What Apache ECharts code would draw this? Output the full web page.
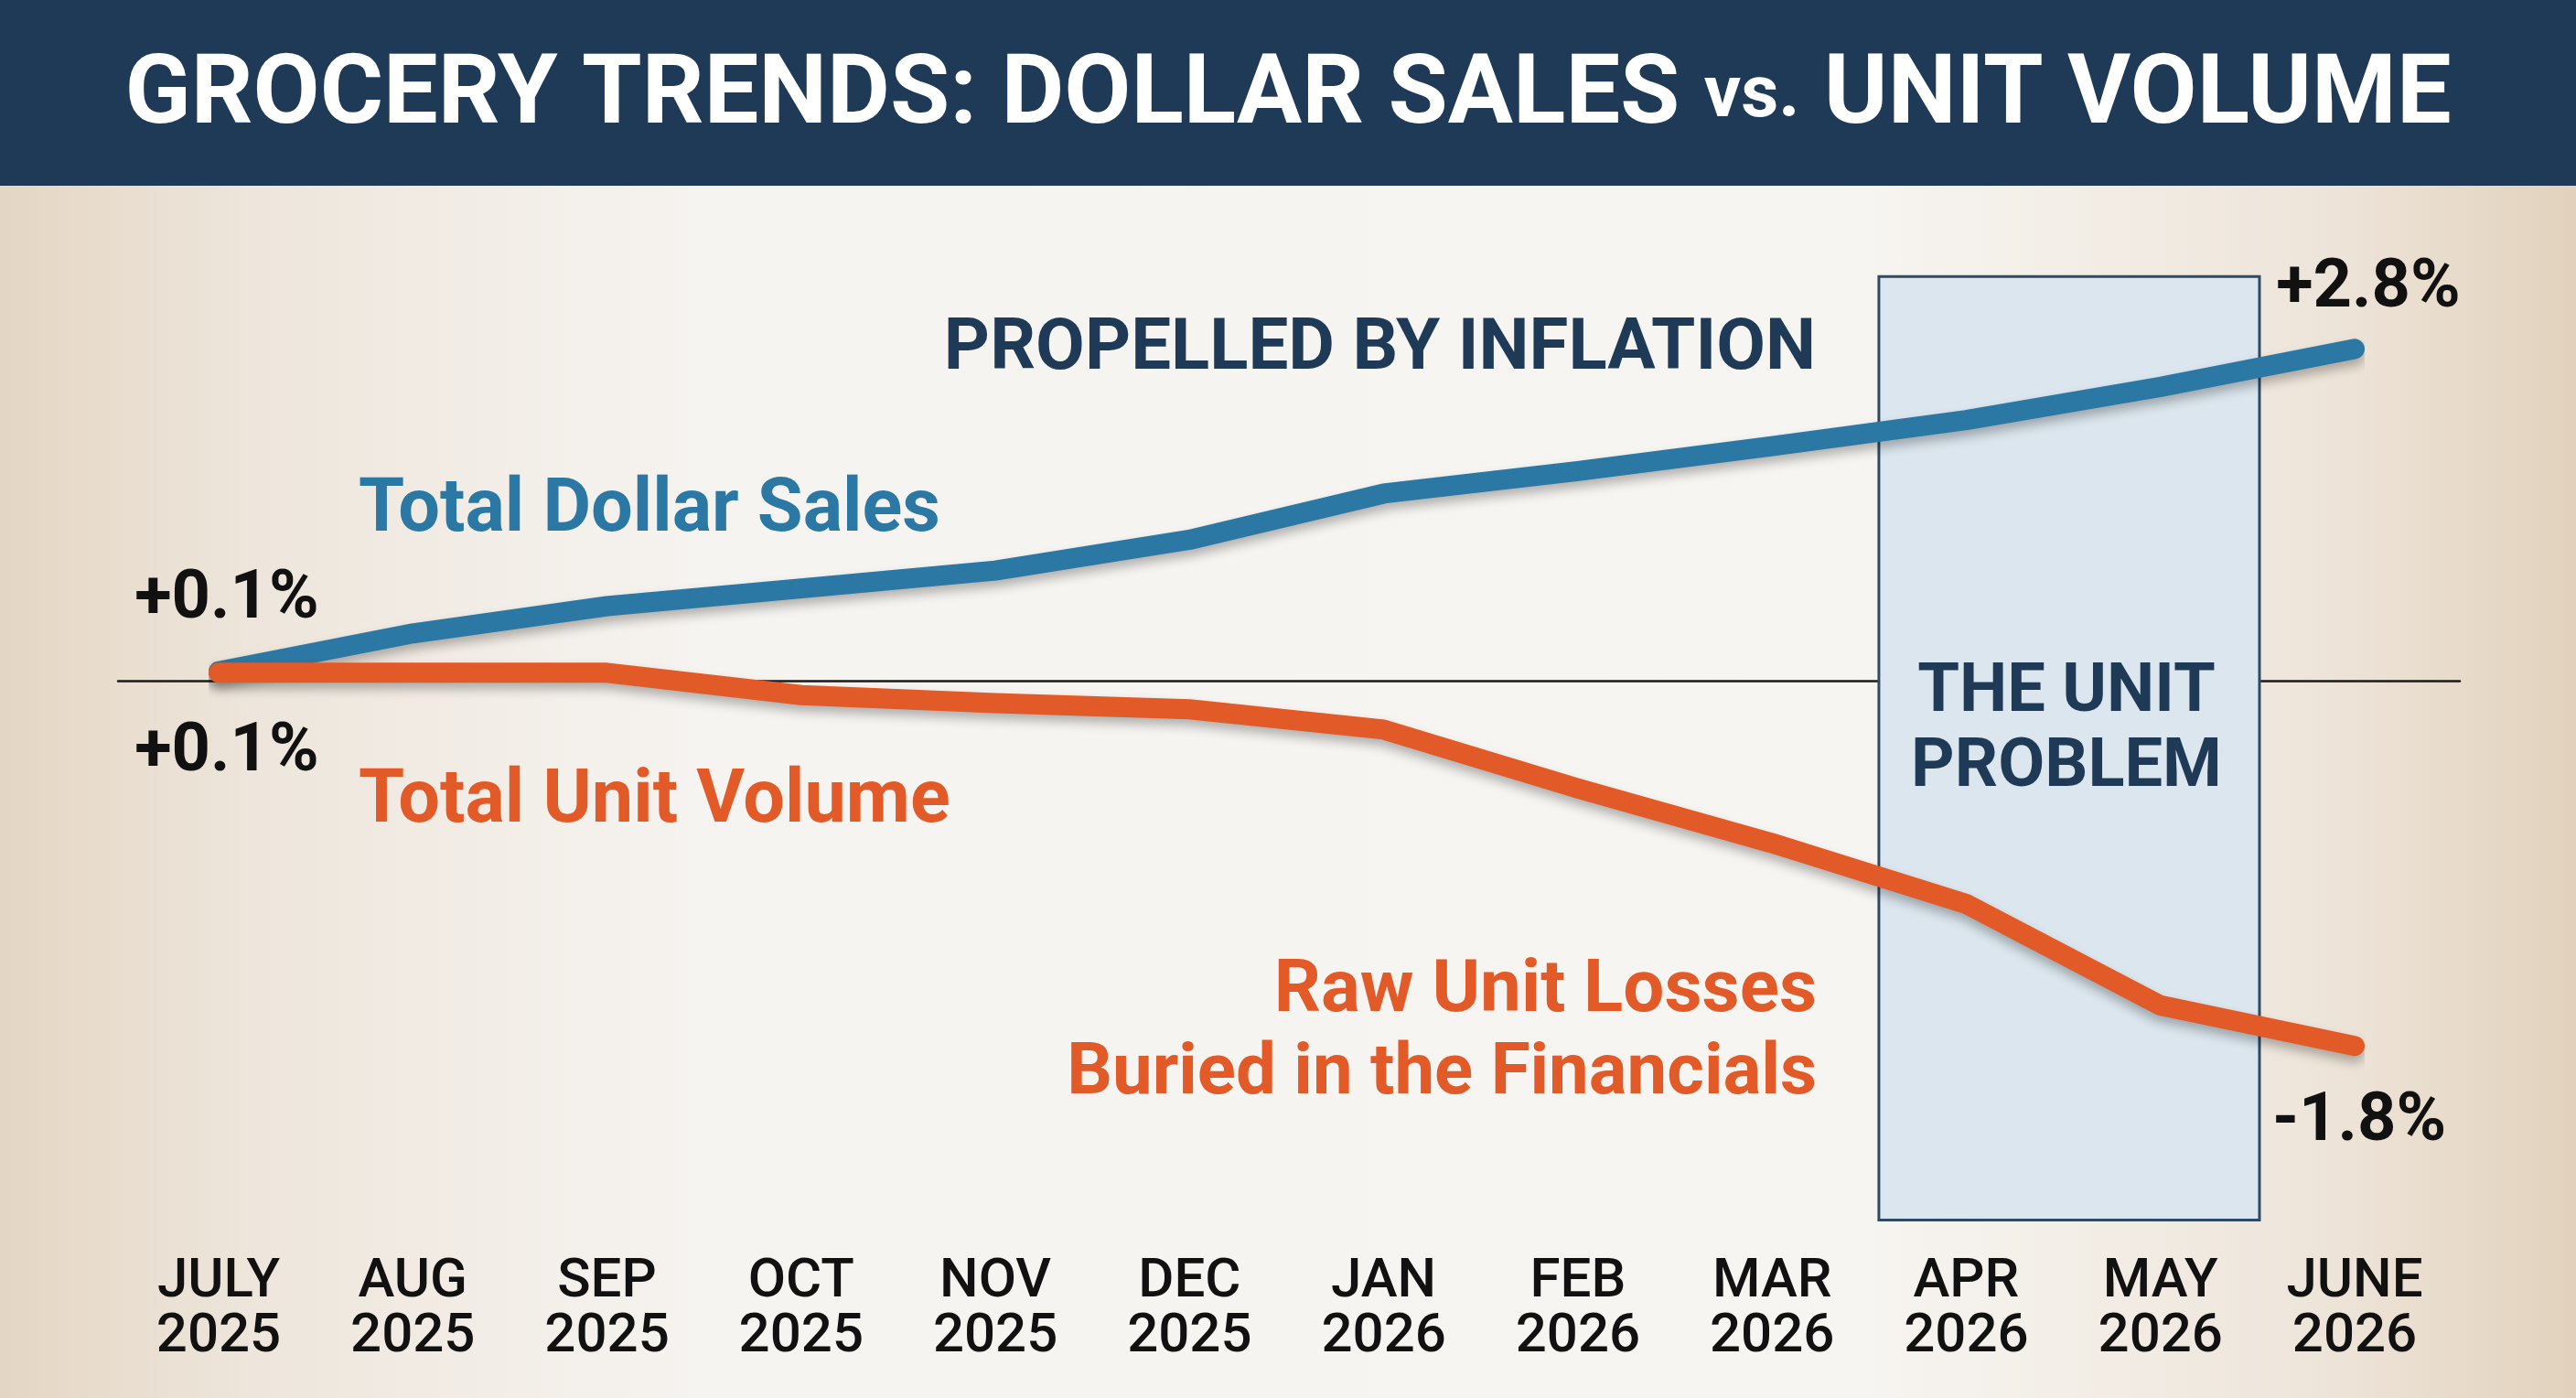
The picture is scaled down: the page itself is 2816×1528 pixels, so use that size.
<!DOCTYPE html>
<html>
<head>
<meta charset="utf-8">
<title>Grocery Trends: Dollar Sales vs. Unit Volume</title>
<script src="https://cdn.jsdelivr.net/npm/echarts@6/dist/echarts.min.js"></script>
<style>
    html, body { margin: 0; padding: 0; overflow: hidden; background: #f5f2ee; }
    #chart { width: 2816px; height: 1528px; }
</style>
</head>
<body>
<div id="chart"></div>
<script>
// Данные
const MONTHS = ['JULY', 'AUG', 'SEP', 'OCT', 'NOV', 'DEC', 'JAN', 'FEB', 'MAR', 'APR', 'MAY', 'JUNE'];
const YEARS = ['2025', '2025', '2025', '2025', '2025', '2025', '2026', '2026', '2026', '2026', '2026', '2026'];
const DOLLAR_SALES = [0.08, 0.40, 0.63, 0.78, 0.93, 1.19, 1.58, 1.77, 1.98, 2.20, 2.48, 2.80];
const UNIT_VOLUME = [0.04, 0.04, 0.04, -0.07, -0.11, -0.14, -0.24, -0.53, -0.80, -1.10, -1.60, -1.80];
const START_LABELS = ['+0.1%', '+0.1%'];
const END_LABELS = ['+2.8%', '-1.8%'];

// Цвета и шрифты
const COLORS = {
    navy: '#1e3a56',
    blue: '#2a78a3',
    orange: '#e25a28',
    ink: '#111111',
    box: '#dbe6ee',
    boxBorder: '#2f4b64'
};
const FONT = 'Roboto, "Liberation Sans", sans-serif';

// Шкалы: у двух линий разный масштаб, ноль общий
const DOLLAR_RANGE = [-4.8, 4.2];
const UNIT_RANGE = [-2.805, 2.455];

const chart = echarts.init(document.getElementById('chart'));

const lineShadow = {
    shadowColor: 'rgba(0, 0, 0, 0.28)',
    shadowBlur: 12,
    shadowOffsetY: 7
};

function annotation(text, x, y, color, align, size) {
    return {
        type: 'text',
        x: x,
        y: y,
        z: 20,
        style: {
            text: text,
            fill: color,
            font: 'bold ' + (size || 80) + 'px ' + FONT,
            align: align || 'left',
            verticalAlign: 'middle'
        }
    };
}

const option = {
    animation: false,
    graphic: [
        // Фон
        {
            type: 'rect',
            z: -10,
            shape: { x: 0, y: 0, width: 2816, height: 1528 },
            style: {
                fill: new echarts.graphic.LinearGradient(0, 0, 1, 0, [
                    { offset: 0, color: '#e4d6c4' },
                    { offset: 0.1, color: '#eee6dc' },
                    { offset: 0.28, color: '#f6f4f1' },
                    { offset: 0.72, color: '#f7f5f2' },
                    { offset: 0.9, color: '#eee5da' },
                    { offset: 1, color: '#e2d2bd' }
                ])
            }
        },
        // Шапка
        {
            type: 'rect',
            z: 10,
            shape: { x: 0, y: 0, width: 2816, height: 203 },
            style: { fill: COLORS.navy }
        },
        {
            type: 'text',
            x: 1408,
            y: 107,
            z: 11,
            style: {
                text: '{a|GROCERY TRENDS: DOLLAR SALES }{b|vs.}{a| UNIT VOLUME}',
                align: 'center',
                verticalAlign: 'middle',
                rich: {
                    a: { fill: '#ffffff', font: 'bold 106px ' + FONT },
                    b: { fill: '#ffffff', font: 'bold 80px ' + FONT }
                }
            }
        },
        annotation('PROPELLED BY INFLATION', 1985, 383, COLORS.navy, 'right', 78),
        annotation('Total Dollar Sales', 392, 560, COLORS.blue, 'left', 81),
        annotation('Total Unit Volume', 392, 878, COLORS.orange, 'left', 81),
        annotation('Raw Unit Losses', 1986, 1085, COLORS.orange, 'right', 80),
        annotation('Buried in the Financials', 1986, 1175, COLORS.orange, 'right', 78),
        annotation('THE UNIT', 2259, 758, COLORS.navy, 'center', 74),
        annotation('PROBLEM', 2259, 840, COLORS.navy, 'center', 74),
        annotation(START_LABELS[0], 248, 656, COLORS.ink, 'center', 74),
        annotation(START_LABELS[1], 248, 823, COLORS.ink, 'center', 74),
        annotation(END_LABELS[0], 2589, 316, COLORS.ink, 'center', 74),
        annotation(END_LABELS[1], 2579, 1227, COLORS.ink, 'center', 74)
    ],
    grid: [
        { left: 239, right: 242, top: 200, bottom: 162 },
        // Широкая сетка только для нулевой линии
        { left: 129, right: 127, top: 200, bottom: 162 }
    ],
    xAxis: [
        {
            type: 'value',
            gridIndex: 0,
            min: 0,
            max: MONTHS.length - 1,
            interval: 1,
            axisLine: { show: false },
            axisTick: { show: false },
            splitLine: { show: false },
            axisLabel: {
                margin: 6,
                color: COLORS.ink,
                fontFamily: FONT,
                fontSize: 60,
                fontWeight: 500,
                lineHeight: 60,
                formatter: (v) => MONTHS[v] + '\n' + YEARS[v]
            }
        },
        {
            type: 'value',
            gridIndex: 1,
            min: 0,
            max: 1,
            axisLine: { show: true, onZero: true, lineStyle: { color: '#1a1a1a', width: 2.5 } },
            axisTick: { show: false },
            axisLabel: { show: false },
            splitLine: { show: false }
        }
    ],
    yAxis: [
        { type: 'value', gridIndex: 0, min: DOLLAR_RANGE[0], max: DOLLAR_RANGE[1], show: false },
        { type: 'value', gridIndex: 0, min: UNIT_RANGE[0], max: UNIT_RANGE[1], show: false },
        { type: 'value', gridIndex: 1, min: DOLLAR_RANGE[0], max: DOLLAR_RANGE[1], show: false }
    ],
    series: [
        {
            name: 'Total Dollar Sales',
            type: 'line',
            xAxisIndex: 0,
            yAxisIndex: 0,
            data: DOLLAR_SALES.map((v, i) => [i, v]),
            symbol: 'none',
            clip: false,
            z: 5,
            lineStyle: Object.assign({ width: 22, color: COLORS.blue, cap: 'round', join: 'round' }, lineShadow),
            // Блок «THE UNIT PROBLEM»
            markArea: {
                silent: true,
                itemStyle: { color: COLORS.box, borderColor: COLORS.boxBorder, borderWidth: 3 },
                data: [[{ xAxis: 8.55, yAxis: 3.41 }, { xAxis: 10.51, yAxis: -4.55 }]]
            }
        },
        {
            name: 'Total Unit Volume',
            type: 'line',
            xAxisIndex: 0,
            yAxisIndex: 1,
            data: UNIT_VOLUME.map((v, i) => [i, v]),
            symbol: 'none',
            clip: false,
            z: 5,
            lineStyle: Object.assign({ width: 22, color: COLORS.orange, cap: 'round', join: 'round' }, lineShadow)
        }
    ]
};

chart.setOption(option);
</script>
</body>
</html>
